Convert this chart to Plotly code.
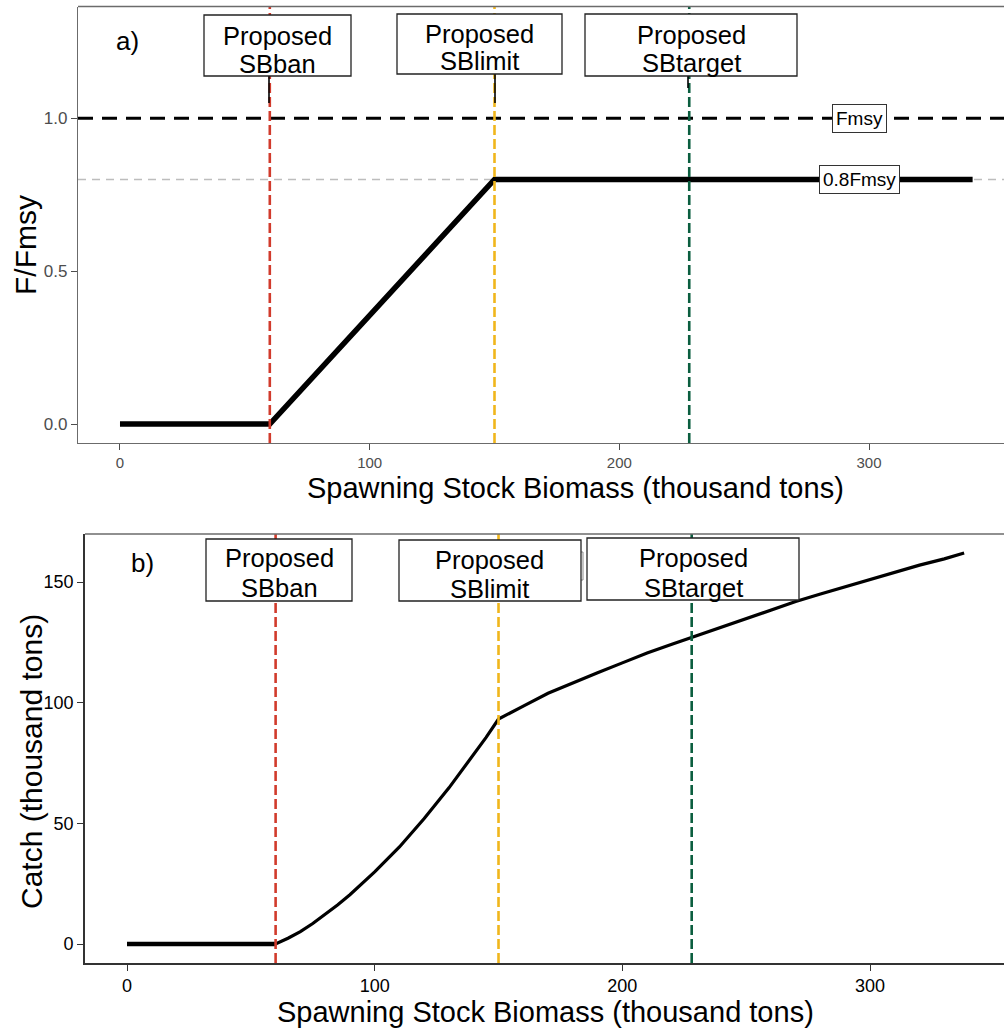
import plotly.graph_objects as go

W, H = 1004, 1028

# Harvest control rule: F/Fmsy against spawning stock biomass (thousand tons)
hcr_sb = [0, 60, 150, 341.5]
hcr_f = [0, 0, 0.8, 0.8]

# Catch (thousand tons) under the rule
catch_sb = [0, 60, 65, 70, 75, 80, 85, 90, 95, 100, 110, 120, 130, 140, 145, 150, 155, 160,
            170, 180, 190, 200, 210, 220, 228, 240, 250, 260, 270, 280, 290, 300, 310,
            320, 330, 338]
catch_kt = [0, 0, 2.4, 5.1, 8.5, 12.3, 16.2, 20.4, 25.0, 29.9, 40.2, 52.0, 64.7, 78.5,
            85.6, 93.2, 96.0, 98.6, 103.9, 108.3, 112.4, 116.5, 120.6, 124.2, 127.0,
            131.2, 134.7, 138.3, 141.9, 145.0, 148.0, 151.0, 154.0, 157.0, 159.6, 162.0]

# Proposed reference points
ref_names = ["SBban", "SBlimit", "SBtarget"]
ref_sb = [60, 150, 228]
ref_colors = ["#d13b2c", "#f0b61c", "#0b5e3f"]

# Fishing mortality reference levels
f_levels = [1.0, 0.8]
f_level_labels = ["Fmsy", "0.8Fmsy"]

FONT = "Liberation Sans, Arial, sans-serif"


def px(x):
    return x / W


def py(y):
    return 1 - y / H


fig = go.Figure()

fig.add_trace(go.Scatter(x=hcr_sb, y=hcr_f, mode="lines",
                         line=dict(color="black", width=5.5),
                         xaxis="x", yaxis="y", showlegend=False, hoverinfo="skip"))
fig.add_trace(go.Scatter(x=catch_sb, y=catch_kt, mode="lines",
                         line=dict(color="black", width=3.2),
                         xaxis="x2", yaxis="y2", showlegend=False, hoverinfo="skip"))
fig.add_trace(go.Scatter(x=catch_sb[:2], y=catch_kt[:2], mode="lines",
                         line=dict(color="black", width=4.5),
                         xaxis="x2", yaxis="y2", showlegend=False, hoverinfo="skip"))

shapes = []

# Reference level lines in panel a
shapes.append(dict(type="line", xref="x domain", yref="y", x0=0, x1=1,
                   y0=f_levels[1], y1=f_levels[1], layer="below",
                   line=dict(color="#bdbdbd", width=1.6, dash="8px,6px")))
shapes.append(dict(type="line", xref="x domain", yref="y", x0=0, x1=1,
                   y0=f_levels[0], y1=f_levels[0], layer="above",
                   line=dict(color="black", width=3, dash="15px,9px")))

# Vertical reference point lines in both panels
for xa, ya in (("x", "y"), ("x2", "y2")):
    for sb, col in zip(ref_sb, ref_colors):
        shapes.append(dict(type="line", xref=xa, yref=ya + " domain", x0=sb, x1=sb,
                           y0=0, y1=1, layer="above",
                           line=dict(color=col, width=2.6, dash="10px,4px")))

# Leader segments from labels in panel a
for x, y0, y1 in ((269, 76, 103), (495, 74, 103), (688, 76, 88)):
    shapes.append(dict(type="line", xref="paper", yref="paper",
                       x0=px(x), x1=px(x), y0=py(y0), y1=py(y1), layer="above",
                       line=dict(color="black", width=1.6)))

# Top borders
shapes.append(dict(type="line", xref="paper", yref="paper", x0=px(78), x1=1,
                   y0=py(6.5), y1=py(6.5), line=dict(color="#6b6b6b", width=1.3)))
shapes.append(dict(type="line", xref="paper", yref="paper", x0=px(85), x1=1,
                   y0=py(534), y1=py(534), line=dict(color="#6b6b6b", width=1.3)))

# Small label peeking out behind the SBlimit box in panel b
shapes.append(dict(type="rect", xref="paper", yref="paper",
                   x0=px(572), x1=px(583), y0=py(552), y1=py(580), layer="above",
                   fillcolor="white", line=dict(color="#8a8a8a", width=1)))

# Label boxes
boxes = [
    ((204, 15, 351, 76), (277, 36, 64)),
    ((397, 14, 562, 74), (479, 34, 61)),
    ((585, 14, 797, 76), (691, 35, 63)),
    ((206, 539, 352, 601), (279, 558, 588)),
    ((399, 540, 581, 601), (489, 560, 589)),
    ((587, 538, 799, 600), (693, 558, 588)),
]
annotations = []
for i, ((x0, y0, x1, y1), (cx, l1, l2)) in enumerate(boxes):
    shapes.append(dict(type="rect", xref="paper", yref="paper",
                       x0=px(x0), x1=px(x1), y0=py(y1), y1=py(y0), layer="above",
                       fillcolor="white", line=dict(color="#222", width=1.3)))
    name = ref_names[i % 3]
    for txt, yy in (("Proposed", l1), (name, l2)):
        annotations.append(dict(text=txt, x=px(cx), y=py(yy), xref="paper", yref="paper",
                                xanchor="center", yanchor="middle", showarrow=False,
                                font=dict(family=FONT, size=25.5, color="black")))

# Fmsy level labels
for lvl, lab in zip(f_levels, f_level_labels):
    annotations.append(dict(text=lab, x=296, y=lvl, xref="x", yref="y",
                            xanchor="center", yanchor="middle", showarrow=False,
                            bgcolor="white", bordercolor="#333", borderwidth=1,
                            borderpad=3, font=dict(family=FONT, size=19, color="black")))

# Panel letters
annotations.append(dict(text="a)", x=px(127), y=py(41), xref="paper", yref="paper",
                        xanchor="center", yanchor="middle", showarrow=False,
                        font=dict(family=FONT, size=26, color="black")))
annotations.append(dict(text="b)", x=px(142), y=py(563), xref="paper", yref="paper",
                        xanchor="center", yanchor="middle", showarrow=False,
                        font=dict(family=FONT, size=26, color="black")))

# Axis titles
for txt, x, y in (("Spawning Stock Biomass (thousand tons)", 575, 488),
                  ("Spawning Stock Biomass (thousand tons)", 545, 1012)):
    annotations.append(dict(text=txt, x=px(x), y=py(y), xref="paper", yref="paper",
                            xanchor="center", yanchor="middle", showarrow=False,
                            font=dict(family=FONT, size=29, color="black")))
annotations.append(dict(text="F/Fmsy", x=px(25), y=py(245), xref="paper", yref="paper",
                        xanchor="center", yanchor="middle", showarrow=False, textangle=-90,
                        font=dict(family=FONT, size=30, color="black")))
annotations.append(dict(text="Catch (thousand tons)", x=px(31), y=py(762), xref="paper",
                        yref="paper", xanchor="center", yanchor="middle", showarrow=False,
                        textangle=-90, font=dict(family=FONT, size=30, color="black")))

axis_a = dict(showgrid=False, zeroline=False, showline=True, linecolor="#6b6b6b",
              linewidth=1.3, ticks="outside", ticklen=6, tickcolor="#4d4d4d", tickwidth=1.2)
axis_b = dict(showgrid=False, zeroline=False, showline=True, linecolor="#333",
              linewidth=1.6, ticks="outside", ticklen=6, tickcolor="#333", tickwidth=1.3,
              tickfont=dict(family=FONT, size=18, color="black"))

fig.update_layout(
    width=W, height=H,
    margin=dict(l=0, r=0, t=0, b=0),
    paper_bgcolor="white", plot_bgcolor="white",
    showlegend=False,
    xaxis=dict(axis_a, domain=[px(78), 1], range=[-16.82, 354.07],
               tickvals=[0, 100, 200, 300], anchor="y",
               tickfont=dict(family=FONT, size=15, color="#4d4d4d")),
    yaxis=dict(axis_a, domain=[py(443), py(6.5)], range=[-0.0621, 1.366],
               tickvals=[0, 0.5, 1.0], tickformat=".1f", anchor="x",
               tickfont=dict(family=FONT, size=17, color="#4d4d4d")),
    xaxis2=dict(axis_b, domain=[px(85), 1], range=[-16.96, 354.1],
                tickvals=[0, 100, 200, 300], anchor="y2"),
    yaxis2=dict(axis_b, domain=[py(963), py(534)], range=[-7.87, 169.9],
                tickvals=[0, 50, 100, 150], anchor="x2"),
    shapes=shapes,
    annotations=annotations,
)

fig.write_html("out.html")
